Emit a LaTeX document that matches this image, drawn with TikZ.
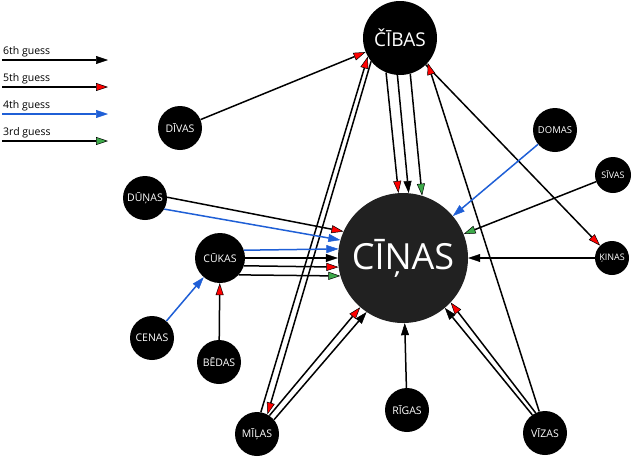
\documentclass[tikz,border=0pt]{standalone}
\usepackage{fontspec}
\setmainfont{Open Sans}
\usetikzlibrary{arrows.meta}
\definecolor{gbl}{HTML}{1F5FD6}
\definecolor{ggr}{HTML}{3DAA4A}
\begin{document}
\begin{tikzpicture}[x=1pt,y=-1pt,
  nd/.style={circle,fill=black,text=white,inner sep=0pt,font=\fontsize{10.5}{11}\selectfont},
  ln/.style={line width=1.5pt,black},
  e6/.style={ln,-{Triangle[length=12pt,width=8pt,line width=0.5pt,fill=black]}},
  e5/.style={ln,-{Triangle[length=12pt,width=8pt,line width=0.5pt,fill=red]}},
  e4/.style={ln,gbl,-{Triangle[length=12pt,width=8pt,line width=0.5pt,fill=gbl]}},
  e3/.style={ln,-{Triangle[length=12pt,width=8pt,line width=0.5pt,fill=ggr]}},
  lg/.style={font=\fontsize{10.5}{11}\selectfont,anchor=south west,inner sep=0pt}]
\useasboundingbox (0,0) rectangle (640,456);
% nodes
\node[nd,minimum size=74pt,font=\fontsize{19}{20}\selectfont] (cibas) at (400,38) {ČĪBAS};
\node[nd,minimum size=130pt,fill=black!87,font=\fontsize{36}{38}\selectfont] (cinas) at (403,258) {CĪŅAS};
\node[nd,minimum size=44pt] (divas) at (180,128) {DĪVAS};
\node[nd,minimum size=44pt] (dunas) at (145,198) {DŪŅAS};
\node[nd,minimum size=50pt] (cukas) at (220,258) {CŪKAS};
\node[nd,minimum size=44pt] (cenas) at (152,338) {CENAS};
\node[nd,minimum size=44pt] (bedas) at (219,362) {BĒDAS};
\node[nd,minimum size=44pt] (milas) at (257,434) {MĪĻAS};
\node[nd,minimum size=44pt] (rigas) at (407,410) {RĪGAS};
\node[nd,minimum size=44pt] (vizas) at (545,433) {VĪZAS};
\node[nd,minimum size=34pt,font=\fontsize{9}{9}\selectfont] (kinas) at (612,258) {ĶINAS};
\node[nd,minimum size=36pt,font=\fontsize{9}{9}\selectfont] (sivas) at (613,175) {SĪVAS};
\node[nd,minimum size=44pt,font=\fontsize{9.5}{10}\selectfont] (domas) at (555,130) {DOMAS};
% legend
\node[lg] (l6) at (3,57) {6th guess};
\node[lg] (l5) at (3,84) {5th guess};
\node[lg] (l4) at (3,111) {4th guess};
\node[lg] (l3) at (3,138) {3rd guess};
\coordinate (a6) at (2,60); \coordinate (b6) at (108,60);
\coordinate (a5) at (2,87); \coordinate (b5) at (108,87);
\coordinate (a4) at (2,114); \coordinate (b4) at (108,114);
\coordinate (a3) at (2,141); \coordinate (b3) at (108,141);
\draw[e6] (a6) -- (b6);
\draw[e5] (a5) -- (b5);
\draw[e4] (a4) -- (b4);
\draw[e3] (a3) -- (b3);
% edges
\draw[e5] (divas) -- (cibas);
\draw[e5] (cibas.-112) -- (cinas.94);
\draw[e6] (cibas.-94) -- (cinas.85);
\draw[e3] (cibas.-74) -- (cinas.73);
\draw[e5] (cibas) -- (kinas);
\draw[e5] (vizas.105) -- (cibas.-42);
\draw[e5] (milas.80) -- (cibas.-150);
\draw[e5] (cibas.-141) -- (milas.62);
\draw[e5] (milas.56) -- (cinas.-131);
\draw[e6] (milas.40) -- (cinas.-124);
\draw[e6] (vizas.125) -- (cinas.-50);
\draw[e5] (vizas.115) -- (cinas.-43);
\draw[e6] (rigas) -- (cinas);
\draw[e6] (kinas) -- (cinas);
\draw[e3] (sivas) -- (cinas);
\draw[e4] (domas) -- (cinas);
\draw[e5] (dunas.2) -- (cinas.156);
\draw[e4] (dunas.-30) -- (cinas.164);
\draw[e4] (cukas.18.7) -- (cinas.172.9);
\draw[e6] (cukas.east) -- (cinas.west);
\draw[e5] (cukas.-18.7) -- (cinas.-172.9);
\draw[e3] (cukas.-42.8) -- (cinas.-164.8);
\draw[e4] (cenas) -- (cukas);
\draw[e5] (bedas) -- (cukas);
\end{tikzpicture}
\end{document}
